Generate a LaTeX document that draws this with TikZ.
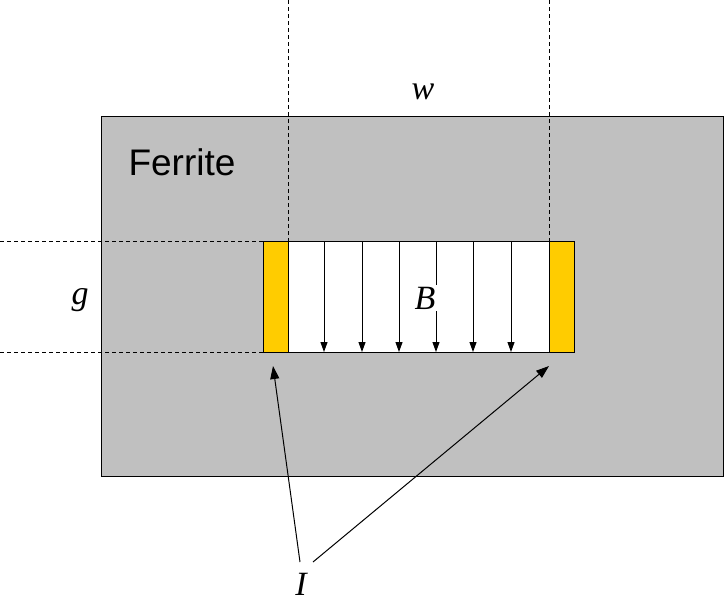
\documentclass[tikz,border=0pt]{standalone}
\usepackage{fontspec}
\setmainfont{Liberation Serif}
\newfontfamily\arialf{Liberation Sans}
\usetikzlibrary{arrows.meta}
\definecolor{ferr}{HTML}{C0C0C0}
\definecolor{gold}{HTML}{FFCC00}
\tikzset{
  dim/.style={dash pattern=on 4pt off 3pt,line width=1pt},
  field/.style={-{Triangle[length=10pt,width=7pt]},line width=1pt},
  lead/.style={-{Triangle[length=13pt,width=9pt]},line width=1pt},
  lbl/.style={font=\fontsize{34}{38}\selectfont\itshape,inner sep=0pt},
}
\begin{document}
\begin{tikzpicture}[x=1pt,y=-1pt]
\useasboundingbox (0,0) rectangle (724,606);
\draw[fill=ferr,line width=1pt] (101,116) rectangle (723,476);
\draw[fill=white,line width=1pt] (263,241) rectangle (574,352);
\draw[fill=gold,line width=1pt] (263,241) rectangle (288,352);
\draw[fill=gold,line width=1pt] (549,241) rectangle (574,352);
\draw[dim] (288,0) -- (288,241);
\draw[dim] (549,0) -- (549,241);
\draw[dim] (0,241) -- (263,241);
\draw[dim] (0,352) -- (263,352);
\foreach \x in {324,362,399,436,473,511} \draw[field] (\x,241) -- (\x,352);
\node[lbl,fill=white,inner sep=2pt] (B) at (425,298) {B};
\node[lbl] (w) at (423,92) {w};
\node[lbl] (g) at (80,300) {g};
\node[font=\arialf\fontsize{37}{42}\selectfont,inner sep=0pt] (F) at (182,162) {Ferrite};
\node[lbl] (I) at (301,584) {I};
\coordinate (i1) at (300,562);
\coordinate (i2) at (313,562);
\coordinate (t1) at (273,366);
\coordinate (t2) at (549,366);
\draw[lead] (i1) -- (t1);
\draw[lead] (i2) -- (t2);
\end{tikzpicture}
\end{document}
